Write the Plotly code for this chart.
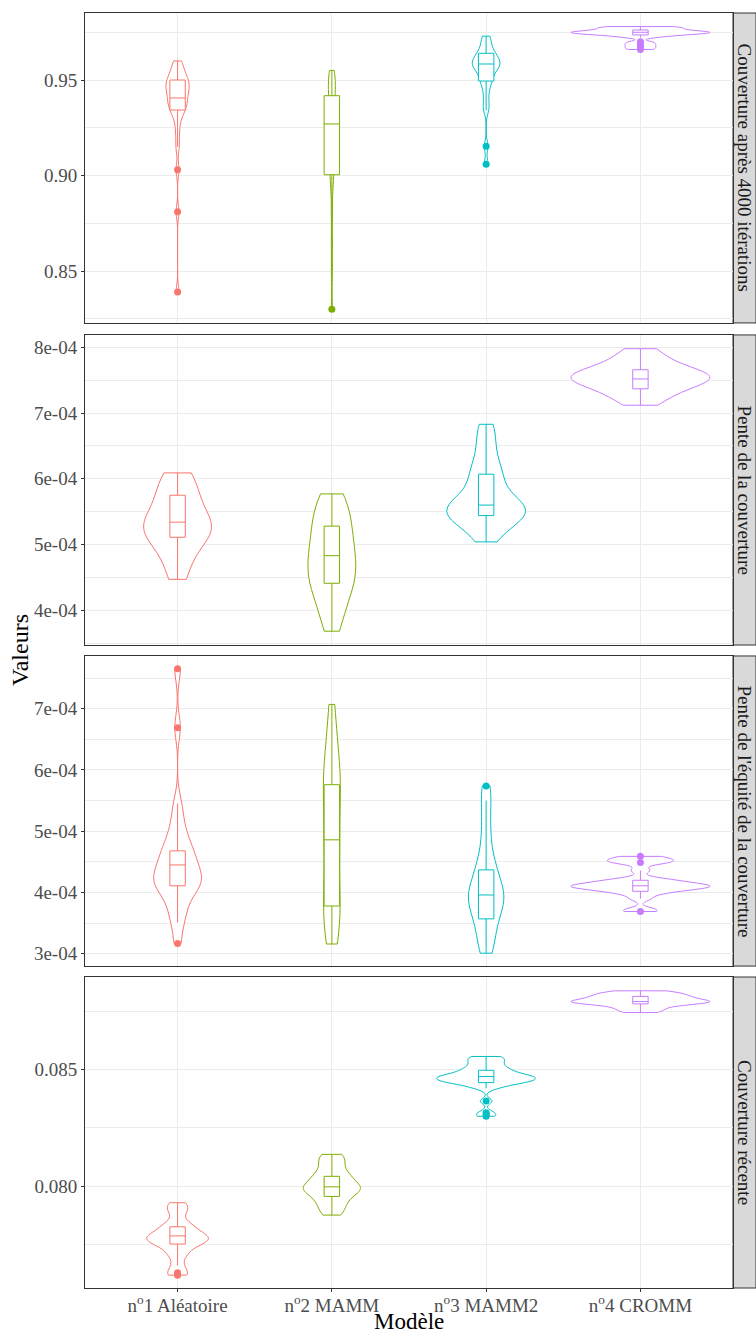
import plotly.graph_objects as go

# ---------------- categories / labels ----------------
MODEL_KEYS = ["Aléatoire", "MAMM", "MAMM2", "CROMM"]
MODEL_LABELS = ["n<sup>o</sup>1 Aléatoire", "n<sup>o</sup>2 MAMM",
                "n<sup>o</sup>3 MAMM2", "n<sup>o</sup>4 CROMM"]
PANEL_NAMES = ["Couverture après 4000 itérations", "Pente de la couverture",
               "Pente de l'équité de la couverture", "Couverture récente"]
COLORS = ["#F8766D", "#7CAE00", "#00BFC4", "#C77CFF"]

# ---------------- panel 1 : Couverture après 4000 itérations ----------------
C4000_ALEA = [0.960, 0.958, 0.956, 0.954, 0.952, 0.951, 0.950, 0.949, 0.948, 0.947,
              0.946, 0.945, 0.944, 0.943, 0.941, 0.940, 0.939, 0.938, 0.936, 0.935,
              0.934, 0.932, 0.928, 0.922, 0.915, 0.903, 0.881, 0.839]
C4000_MAMM = [0.955, 0.954, 0.952, 0.950, 0.948, 0.946, 0.944, 0.942, 0.940, 0.937,
              0.933, 0.930, 0.927, 0.924, 0.920, 0.915, 0.910, 0.905, 0.901, 0.900,
              0.893, 0.880, 0.865, 0.850, 0.830]
C4000_MAMM2 = [0.973, 0.971, 0.968, 0.966, 0.964, 0.963, 0.962, 0.961, 0.960, 0.959,
               0.958, 0.958, 0.957, 0.956, 0.955, 0.953, 0.951, 0.9495, 0.947, 0.943,
               0.938, 0.934, 0.9153, 0.9059]
C4000_CROMM = [0.978, 0.9778, 0.9776, 0.9772, 0.9768, 0.9764, 0.976, 0.9758, 0.9755,
               0.9752, 0.975, 0.975, 0.9748, 0.9746, 0.9743, 0.974, 0.9738, 0.9735,
               0.973, 0.9722, 0.970, 0.969, 0.968, 0.967, 0.966]
C4000_Q1 = [0.9343, 0.9004, 0.9495, 0.9736]
C4000_MED = [0.9406, 0.927, 0.9584, 0.975]
C4000_Q3 = [0.950, 0.9418, 0.964, 0.9762]
C4000_LO = [0.915, 0.850, 0.934, 0.9722]
C4000_HI = [0.960, 0.955, 0.973, 0.978]
C4000_OUT = [[0.903, 0.881, 0.839], [0.830], [0.9153, 0.9059],
             [0.970, 0.969, 0.968, 0.967, 0.966]]

# ---------------- panel 2 : Pente de la couverture ----------------
PENTE_ALEA = [6.09e-4, 6.05e-4, 5.98e-4, 5.90e-4, 5.80e-4, 5.75e-4, 5.68e-4, 5.58e-4,
              5.48e-4, 5.40e-4, 5.36e-4, 5.34e-4, 5.30e-4, 5.27e-4, 5.25e-4, 5.22e-4,
              5.18e-4, 5.13e-4, 5.11e-4, 5.05e-4, 4.95e-4, 4.85e-4, 4.70e-4, 4.55e-4,
              4.47e-4]
PENTE_MAMM = [5.77e-4, 5.70e-4, 5.60e-4, 5.50e-4, 5.40e-4, 5.30e-4, 5.25e-4, 5.15e-4,
              5.05e-4, 4.95e-4, 4.88e-4, 4.83e-4, 4.75e-4, 4.68e-4, 4.60e-4, 4.52e-4,
              4.45e-4, 4.41e-4, 4.35e-4, 4.25e-4, 4.12e-4, 3.98e-4, 3.85e-4, 3.68e-4]
PENTE_MAMM2 = [6.83e-4, 6.65e-4, 6.45e-4, 6.25e-4, 6.10e-4, 6.07e-4, 5.95e-4, 5.80e-4,
               5.70e-4, 5.62e-4, 5.60e-4, 5.56e-4, 5.53e-4, 5.50e-4, 5.48e-4, 5.45e-4,
               5.44e-4, 5.38e-4, 5.30e-4, 5.20e-4, 5.04e-4]
PENTE_CROMM = [7.98e-4, 7.90e-4, 7.82e-4, 7.75e-4, 7.70e-4, 7.66e-4, 7.63e-4, 7.60e-4,
               7.58e-4, 7.56e-4, 7.55e-4, 7.52e-4, 7.50e-4, 7.48e-4, 7.45e-4, 7.42e-4,
               7.37e-4, 7.33e-4, 7.27e-4, 7.20e-4, 7.12e-4]
PENTE_Q1 = [5.11e-4, 4.41e-4, 5.44e-4, 7.37e-4]
PENTE_MED = [5.34e-4, 4.83e-4, 5.60e-4, 7.52e-4]
PENTE_Q3 = [5.75e-4, 5.28e-4, 6.07e-4, 7.66e-4]
PENTE_LO = [4.47e-4, 3.68e-4, 5.04e-4, 7.12e-4]
PENTE_HI = [6.09e-4, 5.77e-4, 6.83e-4, 7.98e-4]
PENTE_OUT = [[], [], [], []]

# ---------------- panel 3 : Pente de l'équité de la couverture ----------------
EQUITE_ALEA = [7.65e-4, 6.69e-4, 5.45e-4, 5.20e-4, 5.00e-4, 4.85e-4, 4.75e-4, 4.68e-4,
               4.60e-4, 4.52e-4, 4.45e-4, 4.40e-4, 4.32e-4, 4.25e-4, 4.20e-4, 4.18e-4,
               4.15e-4, 4.11e-4, 4.05e-4, 3.95e-4, 3.80e-4, 3.65e-4, 3.51e-4, 3.17e-4]
EQUITE_MAMM = [7.07e-4, 6.70e-4, 6.40e-4, 6.20e-4, 6.00e-4, 5.85e-4, 5.76e-4, 5.60e-4,
               5.40e-4, 5.20e-4, 5.00e-4, 4.86e-4, 4.70e-4, 4.50e-4, 4.30e-4, 4.10e-4,
               3.95e-4, 3.78e-4, 3.60e-4, 3.45e-4, 3.30e-4, 3.16e-4]
EQUITE_MAMM2 = [5.74e-4, 5.50e-4, 5.20e-4, 4.90e-4, 4.65e-4, 4.45e-4, 4.37e-4, 4.25e-4,
                4.15e-4, 4.05e-4, 3.98e-4, 3.96e-4, 3.90e-4, 3.82e-4, 3.75e-4, 3.65e-4,
                3.57e-4, 3.45e-4, 3.30e-4, 3.15e-4, 3.01e-4]
EQUITE_CROMM = [4.59e-4, 4.56e-4, 4.52e-4, 4.50e-4, 4.49e-4, 4.36e-4, 4.22e-4, 4.20e-4,
                4.18e-4, 4.15e-4, 4.13e-4, 4.12e-4, 4.11e-4, 4.10e-4, 4.09e-4, 4.08e-4,
                4.06e-4, 4.04e-4, 4.02e-4, 3.98e-4, 3.90e-4, 3.72e-4, 3.69e-4]
EQUITE_Q1 = [4.11e-4, 3.78e-4, 3.57e-4, 4.02e-4]
EQUITE_MED = [4.45e-4, 4.86e-4, 3.96e-4, 4.11e-4]
EQUITE_Q3 = [4.68e-4, 5.76e-4, 4.37e-4, 4.20e-4]
EQUITE_LO = [3.51e-4, 3.16e-4, 3.01e-4, 3.90e-4]
EQUITE_HI = [5.45e-4, 7.07e-4, 5.50e-4, 4.36e-4]
EQUITE_OUT = [[7.65e-4, 6.69e-4, 3.17e-4], [], [5.74e-4], [4.59e-4, 4.49e-4, 3.69e-4]]

# ---------------- panel 4 : Couverture récente ----------------
RECENTE_ALEA = [0.0793, 0.0791, 0.0789, 0.07855, 0.0783, 0.07827, 0.0781, 0.07798,
                0.0779, 0.07788, 0.0778, 0.07772, 0.07765, 0.0776, 0.07753, 0.0774,
                0.0772, 0.0770, 0.07662, 0.0763, 0.0762]
RECENTE_MAMM = [0.08137, 0.0812, 0.0810, 0.08075, 0.0805, 0.08043, 0.0803, 0.0801,
                0.0800, 0.07998, 0.0799, 0.0798, 0.0797, 0.07957, 0.0794, 0.0792,
                0.0790, 0.07877]
RECENTE_MAMM2 = [0.08556, 0.0855, 0.0854, 0.0853, 0.0852, 0.0851, 0.0850, 0.08497,
                 0.0849, 0.0848, 0.08478, 0.08475, 0.0847, 0.08468, 0.08465, 0.0846,
                 0.08458, 0.08455, 0.0845, 0.08447, 0.08444, 0.0844, 0.0843, 0.0842,
                 0.08365, 0.08315, 0.0830]
RECENTE_CROMM = [0.08837, 0.0883, 0.08825, 0.0882, 0.08813, 0.0881, 0.08805, 0.0880,
                 0.08795, 0.08791, 0.0879, 0.08788, 0.08785, 0.08781, 0.08775, 0.08765,
                 0.08755, 0.08744]
RECENTE_Q1 = [0.07753, 0.07957, 0.08444, 0.08781]
RECENTE_MED = [0.07788, 0.07998, 0.0847, 0.08791]
RECENTE_Q3 = [0.07827, 0.08043, 0.08497, 0.08813]
RECENTE_LO = [0.07662, 0.07877, 0.0842, 0.08744]
RECENTE_HI = [0.0793, 0.08137, 0.08556, 0.08837]
RECENTE_OUT = [[0.0763, 0.0762], [], [0.08365, 0.08315, 0.0831, 0.0830], []]

# ---------------- axis ticks ----------------
C4000_TICKS = [0.85, 0.90, 0.95]
C4000_TICKTEXT = ["0.85", "0.90", "0.95"]
PENTE_TICKS = [4e-4, 5e-4, 6e-4, 7e-4, 8e-4]
PENTE_TICKTEXT = ["4e-04", "5e-04", "6e-04", "7e-04", "8e-04"]
EQUITE_TICKS = [3e-4, 4e-4, 5e-4, 6e-4, 7e-4]
EQUITE_TICKTEXT = ["3e-04", "4e-04", "5e-04", "6e-04", "7e-04"]
RECENTE_TICKS = [0.080, 0.085]
RECENTE_TICKTEXT = ["0.080", "0.085"]

# ---------------- build ----------------
panels = [
    dict(samples=[C4000_ALEA, C4000_MAMM, C4000_MAMM2, C4000_CROMM],
         q1=C4000_Q1, med=C4000_MED, q3=C4000_Q3, lo=C4000_LO, hi=C4000_HI, out=C4000_OUT,
         widths=[0.15, 0.045, 0.18, 0.9], bws=[0.0035, 0.006, 0.0028, 0.0007],
         tv=C4000_TICKS, tt=C4000_TICKTEXT, minor=[0.825, 0.875, 0.925, 0.975],
         rng=[0.8228, 0.9851], dom=[0.7569, 1.0]),
    dict(samples=[PENTE_ALEA, PENTE_MAMM, PENTE_MAMM2, PENTE_CROMM],
         q1=PENTE_Q1, med=PENTE_MED, q3=PENTE_Q3, lo=PENTE_LO, hi=PENTE_HI, out=PENTE_OUT,
         widths=[0.44, 0.31, 0.51, 0.9], bws=[0.25e-4, 0.28e-4, 0.2e-4, 0.12e-4],
         tv=PENTE_TICKS, tt=PENTE_TICKTEXT, minor=[3.5e-4, 4.5e-4, 5.5e-4, 6.5e-4, 7.5e-4],
         rng=[3.47e-4, 8.19e-4], dom=[0.5043, 0.7475]),
    dict(samples=[EQUITE_ALEA, EQUITE_MAMM, EQUITE_MAMM2, EQUITE_CROMM],
         q1=EQUITE_Q1, med=EQUITE_MED, q3=EQUITE_Q3, lo=EQUITE_LO, hi=EQUITE_HI, out=EQUITE_OUT,
         widths=[0.31, 0.11, 0.23, 0.9], bws=[0.2e-4, 0.4e-4, 0.22e-4, 0.045e-4],
         tv=EQUITE_TICKS, tt=EQUITE_TICKTEXT, minor=[3.5e-4, 4.5e-4, 5.5e-4, 6.5e-4, 7.5e-4],
         rng=[2.80e-4, 7.86e-4], dom=[0.2525, 0.4957]),
    dict(samples=[RECENTE_ALEA, RECENTE_MAMM, RECENTE_MAMM2, RECENTE_CROMM],
         q1=RECENTE_Q1, med=RECENTE_MED, q3=RECENTE_Q3, lo=RECENTE_LO, hi=RECENTE_HI, out=RECENTE_OUT,
         widths=[0.40, 0.37, 0.64, 0.9], bws=[0.0002, 0.00025, 0.00012, 0.0001],
         tv=RECENTE_TICKS, tt=RECENTE_TICKTEXT, minor=[0.0775, 0.0825, 0.0875],
         rng=[0.07565, 0.08896], dom=[0.0, 0.2439]),
]

FONT = "Liberation Serif"
fig = go.Figure()
layout = dict(
    width=756, height=1334,
    margin=dict(l=85, r=23, t=13, b=46, autoexpand=False),
    paper_bgcolor="white", plot_bgcolor="white",
    showlegend=False, violinmode="overlay", boxmode="overlay",
    font=dict(family=FONT, size=19, color="#4D4D4D"),
)
shapes = []
annotations = []
plot_h = 1334 - 13 - 46
strip_w = 23 / (756 - 85 - 23)

for r, p in enumerate(panels, start=1):
    xa = "x" if r == 1 else f"x{r}"
    ya = "y" if r == 1 else f"y{r}"
    for i, key in enumerate(MODEL_KEYS):
        col = COLORS[i]
        fig.add_trace(go.Violin(
            x=[key] * len(p["samples"][i]), y=p["samples"][i], xaxis=xa, yaxis=ya,
            width=p["widths"][i], bandwidth=p["bws"][i], spanmode="hard",
            scalemode="width", points=False, side="both",
            line=dict(color=col, width=1), fillcolor="white",
            box=dict(visible=False), meanline=dict(visible=False), hoverinfo="skip"))
    for i, key in enumerate(MODEL_KEYS):
        col = COLORS[i]
        fig.add_trace(go.Box(
            x=[key], q1=[p["q1"][i]], median=[p["med"][i]], q3=[p["q3"][i]],
            lowerfence=[p["lo"][i]], upperfence=[p["hi"][i]], xaxis=xa, yaxis=ya,
            width=0.1, whiskerwidth=0, boxpoints=False, fillcolor="white",
            line=dict(color=col, width=1), hoverinfo="skip"))
        if p["out"][i]:
            fig.add_trace(go.Scatter(
                x=[key] * len(p["out"][i]), y=p["out"][i], xaxis=xa, yaxis=ya,
                mode="markers", marker=dict(color=col, size=7), hoverinfo="skip"))

    xkey = "xaxis" if r == 1 else f"xaxis{r}"
    ykey = "yaxis" if r == 1 else f"yaxis{r}"
    layout[xkey] = dict(
        domain=[0, 1], anchor=ya, type="category",
        categoryorder="array", categoryarray=MODEL_KEYS,
        tickvals=MODEL_KEYS, ticktext=MODEL_LABELS,
        range=[-0.6, 3.6], showgrid=True, gridcolor="#EBEBEB", gridwidth=1,
        showline=True, mirror=True, linecolor="#333333", linewidth=1, zeroline=False,
        showticklabels=(r == 4), ticks="outside" if r == 4 else "",
        ticklen=3, tickcolor="#333333", tickfont=dict(size=19, color="#4D4D4D", family=FONT),
        ticklabelstandoff=-3 if r == 4 else 0,
        fixedrange=True,
    )
    if r > 1:
        layout[xkey]["matches"] = "x"
    layout[ykey] = dict(
        domain=p["dom"], anchor=xa, range=p["rng"],
        tickmode="array", tickvals=p["tv"], ticktext=p["tt"],
        ticks="outside", ticklen=3, tickcolor="#333333",
        tickfont=dict(size=19, color="#4D4D4D", family=FONT),
        showgrid=True, gridcolor="#EBEBEB", gridwidth=1,
        minor=dict(tickmode="array", tickvals=p["minor"], showgrid=True,
                   gridcolor="#EBEBEB", gridwidth=0.5, ticks=""),
        showline=True, mirror=True, linecolor="#333333", linewidth=1, zeroline=False,
        fixedrange=True,
    )
    # strip
    shapes.append(dict(type="rect", xref="paper", yref="paper",
                       x0=1.0, x1=1.0 + strip_w, y0=p["dom"][0], y1=p["dom"][1],
                       fillcolor="#D9D9D9", line=dict(color="#333333", width=1), layer="below"))
    annotations.append(dict(xref="paper", yref="paper", x=1.0 + strip_w / 2,
                            y=(p["dom"][0] + p["dom"][1]) / 2, text=PANEL_NAMES[r - 1],
                            textangle=90, showarrow=False, xanchor="center", yanchor="middle",
                            font=dict(family=FONT, size=19, color="#1A1A1A")))

annotations.append(dict(xref="paper", yref="paper", x=(20 - 85) / 648, y=(1288 - 650) / plot_h,
                        text="Valeurs", textangle=-90, showarrow=False,
                        xanchor="center", yanchor="middle",
                        font=dict(family=FONT, size=24, color="black")))
annotations.append(dict(xref="paper", yref="paper", x=0.5, y=(1288 - 1321) / plot_h,
                        text="Modèle", showarrow=False, xanchor="center", yanchor="middle",
                        font=dict(family=FONT, size=23, color="black")))
layout["shapes"] = shapes
layout["annotations"] = annotations
fig.update_layout(**layout)
fig.write_html("out.html", config={"displayModeBar": False},
               post_script="document.body.style.margin='0px';document.body.style.overflow='hidden';")
